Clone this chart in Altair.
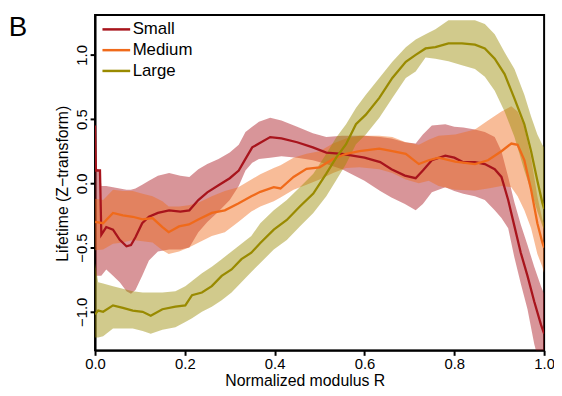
import altair as alt
import pandas as pd

series = ["Small", "Medium", "Large"]
colors = ["#a8141c", "#f06a1a", "#998a00"]

x_ticks = [0.0, 0.2, 0.4, 0.6, 0.8, 1.0]
y_ticks = [-1.0, -0.5, 0.0, 0.5, 1.0]

small_x = [0.0, 0.002, 0.011, 0.014, 0.025, 0.04, 0.055, 0.07, 0.08, 0.09, 0.105, 0.12, 0.14, 0.165, 0.19, 0.21,
           0.23, 0.25, 0.275, 0.30, 0.32, 0.335, 0.35, 0.365, 0.39, 0.415, 0.45, 0.485, 0.515, 0.55, 0.60, 0.635,
           0.66, 0.69, 0.714, 0.73, 0.75, 0.78, 0.80, 0.82, 0.846, 0.868, 0.89, 0.905, 0.92, 0.934, 0.948, 0.963,
           0.978, 0.993, 1.0]
small_mean = [0.45, 0.10, 0.10, -0.40, -0.34, -0.36, -0.44, -0.49, -0.48, -0.42, -0.31, -0.26, -0.23, -0.21, -0.22,
              -0.21, -0.13, -0.07, -0.015, 0.04, 0.10, 0.19, 0.28, 0.31, 0.36, 0.35, 0.32, 0.28, 0.24, 0.23, 0.20,
              0.165, 0.11, 0.06, 0.04, 0.10, 0.18, 0.215, 0.20, 0.165, 0.165, 0.15, 0.11, 0.05, -0.13, -0.335,
              -0.54, -0.72, -0.92, -1.10, -1.17]
small_hi = [0.48, 0.12, 0.10, -0.02, -0.02, -0.03, -0.04, -0.05, -0.05, -0.04, -0.01, 0.02, 0.06, 0.08, 0.06, 0.05,
            0.11, 0.15, 0.19, 0.24, 0.30, 0.40, 0.44, 0.48, 0.51, 0.49, 0.44, 0.39, 0.36, 0.37, 0.37, 0.36, 0.35,
            0.32, 0.31, 0.38, 0.45, 0.46, 0.44, 0.435, 0.42, 0.40, 0.36, 0.25, 0.05, -0.15, -0.32, -0.48, -0.65,
            -0.80, -0.86]
small_lo = [-0.10, -0.72, -0.72, -0.72, -0.67, -0.72, -0.77, -0.84, -0.86, -0.83, -0.72, -0.60, -0.53, -0.515,
            -0.515, -0.50, -0.38, -0.30, -0.22, -0.13, -0.02, 0.10, 0.16, 0.19, 0.20, 0.21, 0.20, 0.18, 0.15, 0.11,
            0.02, -0.06, -0.11, -0.16, -0.21, -0.16, -0.07, -0.03, -0.06, -0.08, -0.10, -0.13, -0.21, -0.27,
            -0.35, -0.58, -0.78, -0.98, -1.25, -1.45, -1.55]

med_x = [0.0, 0.018, 0.04, 0.062, 0.084, 0.106, 0.128, 0.15, 0.164, 0.187, 0.209, 0.231, 0.26, 0.289, 0.319,
         0.348, 0.368, 0.398, 0.413, 0.442, 0.471, 0.50, 0.53, 0.559, 0.589, 0.633, 0.662, 0.692, 0.721, 0.743,
         0.765, 0.802, 0.846, 0.875, 0.905, 0.927, 0.941, 0.956, 0.971, 0.985, 0.996, 1.0]
med_mean = [-0.30, -0.31, -0.23, -0.25, -0.26, -0.28, -0.27, -0.34, -0.38, -0.335, -0.32, -0.28, -0.23, -0.21,
            -0.156, -0.10, -0.066, -0.03, -0.04, 0.05, 0.113, 0.125, 0.19, 0.23, 0.25, 0.27, 0.25, 0.23, 0.15,
            0.18, 0.20, 0.17, 0.15, 0.18, 0.25, 0.31, 0.30, 0.18, -0.05, -0.31, -0.46, -0.50]
med_hi = [-0.12, -0.13, -0.05, -0.06, -0.06, -0.08, -0.10, -0.14, -0.18, -0.18, -0.17, -0.15, -0.10, -0.06,
          -0.03, 0.03, 0.07, 0.12, 0.14, 0.20, 0.23, 0.25, 0.31, 0.35, 0.37, 0.37, 0.36, 0.32, 0.30, 0.34, 0.37,
          0.38, 0.42, 0.49, 0.56, 0.60, 0.56, 0.44, 0.20, -0.10, -0.28, -0.31]
med_lo = [-0.52, -0.515, -0.47, -0.46, -0.44, -0.45, -0.46, -0.52, -0.55, -0.53, -0.50, -0.46, -0.41, -0.38,
          -0.30, -0.22, -0.18, -0.14, -0.11, -0.05, -0.01, 0.03, 0.08, 0.12, 0.125, 0.11, 0.08, 0.03, 0.0, 0.02,
          -0.02, -0.05, -0.056, -0.04, -0.02, -0.03, -0.10, -0.21, -0.35, -0.55, -0.65, -0.70]

lg_x = [0.0, 0.007, 0.018, 0.04, 0.062, 0.084, 0.106, 0.124, 0.15, 0.179, 0.201, 0.216, 0.238, 0.26, 0.282,
        0.304, 0.326, 0.348, 0.368, 0.398, 0.427, 0.456, 0.486, 0.515, 0.537, 0.559, 0.581, 0.603, 0.633, 0.662,
        0.692, 0.714, 0.736, 0.758, 0.787, 0.817, 0.846, 0.868, 0.89, 0.912, 0.934, 0.956, 0.971, 0.985, 0.996,
        1.0]
lg_mean = [-1.02, -0.99, -1.0, -0.95, -0.97, -0.99, -1.0, -1.03, -0.98, -0.96, -0.95, -0.87, -0.85, -0.80,
           -0.72, -0.67, -0.59, -0.54, -0.464, -0.36, -0.285, -0.18, -0.08, 0.075, 0.20, 0.305, 0.46, 0.535,
           0.665, 0.82, 0.946, 1.0, 1.05, 1.06, 1.09, 1.09, 1.08, 1.05, 0.97, 0.85, 0.66, 0.46, 0.25, 0.02,
           -0.15, -0.20]
lg_hi = [-0.62, -0.77, -0.78, -0.80, -0.82, -0.84, -0.85, -0.85, -0.85, -0.84, -0.80, -0.76, -0.70, -0.65,
         -0.59, -0.53, -0.47, -0.41, -0.31, -0.21, -0.13, -0.03, 0.075, 0.23, 0.356, 0.46, 0.587, 0.69, 0.82,
         0.946, 1.06, 1.12, 1.16, 1.20, 1.27, 1.27, 1.27, 1.24, 1.16, 1.02, 0.89, 0.69, 0.52, 0.38, 0.30, 0.28]
lg_lo = [-1.20, -1.20, -1.19, -1.13, -1.13, -1.13, -1.15, -1.17, -1.14, -1.12, -1.08, -1.05, -1.00, -0.96,
         -0.91, -0.85, -0.77, -0.69, -0.62, -0.515, -0.44, -0.335, -0.23, -0.10, 0.025, 0.15, 0.305, 0.38, 0.51,
         0.665, 0.82, 0.87, 0.98, 0.97, 0.95, 0.92, 0.89, 0.83, 0.72, 0.56, 0.36, 0.10, -0.06, -0.22, -0.33,
         -0.36]

rows = []
for name, xs, ms, los, his in [
    ("Small", small_x, small_mean, small_lo, small_hi),
    ("Medium", med_x, med_mean, med_lo, med_hi),
    ("Large", lg_x, lg_mean, lg_lo, lg_hi),
]:
    for a, m, lo, hi in zip(xs, ms, los, his):
        rows.append({"series": name, "x": a, "mean": m, "lo": lo, "hi": hi})
df = pd.DataFrame(rows)

xscale = alt.Scale(domain=[0, 1], nice=False, zero=False)
yscale = alt.Scale(domain=[-1.3, 1.31], nice=False, zero=False)
cscale = alt.Scale(domain=series, range=colors)

xaxis = alt.Axis(values=x_ticks, format=".1f", title="Normalized modulus R", grid=False,
                 tickSize=5, tickWidth=2, tickColor="black", domainWidth=2, domainColor="black",
                 labelFontSize=15, labelColor="black", labelBaseline="alphabetic", labelPadding=13,
                 labelFlush=False, labelOverlap=False,
                 titleFontSize=16, titleFontWeight="normal", titleColor="black",
                 titleX=212, titleY=36, titleBaseline="alphabetic", titleAlign="center")
yaxis = alt.Axis(values=y_ticks, format=".1f", title="Lifetime (Z−transform)", grid=False,
                 tickSize=5, tickWidth=2, tickColor="black", domainWidth=2, domainColor="black",
                 labelFontSize=15, labelColor="black", labelAngle=270, labelAlign="center",
                 labelBaseline="alphabetic", labelPadding=4, labelFlush=False, labelOverlap=False,
                 titleFontSize=16, titleFontWeight="normal", titleColor="black", titleAngle=270,
                 titleX=-28, titleY=170, titleBaseline="alphabetic", titleAlign="center")

layers = []
for s, c in zip(series, colors):
    band = alt.Chart(df).transform_filter(alt.datum.series == s).mark_area(
        color=c, opacity=0.45, clip=True
    ).encode(
        x=alt.X("x:Q", scale=xscale, axis=xaxis),
        y=alt.Y("lo:Q", scale=yscale, axis=yaxis),
        y2="hi:Q",
    )
    layers.append(band)

lines = alt.Chart(df).mark_line(strokeWidth=2.3, clip=True).encode(
    x=alt.X("x:Q", scale=xscale, axis=xaxis),
    y=alt.Y("mean:Q", scale=yscale, axis=yaxis),
    color=alt.Color("series:N", scale=cscale, sort=series,
                    legend=alt.Legend(title=None, orient="none", legendX=13, legendY=6,
                                      symbolType="M-2,0H2", symbolSize=196, symbolStrokeWidth=2.5,
                                      labelFontSize=17, labelColor="black", labelOffset=8,
                                      rowPadding=3, padding=0, labelLimit=200)),
)
layers.append(lines)

panel = alt.Chart(pd.DataFrame({"label": ["B"]})).mark_text(
    fontSize=28, align="center", baseline="middle", color="black"
).encode(text="label:N", x=alt.value(-78), y=alt.value(13))
layers.append(panel)

chart = alt.layer(*layers).properties(
    width=454, height=339,
    autosize=alt.AutoSizeParams(type="none"),
    padding={"left": 88, "top": 5, "right": 10, "bottom": 43},
).configure(font="Liberation Sans").configure_view(stroke="black", strokeWidth=2)

chart.save("out.html", embed_options={"renderer": "svg", "actions": False})
